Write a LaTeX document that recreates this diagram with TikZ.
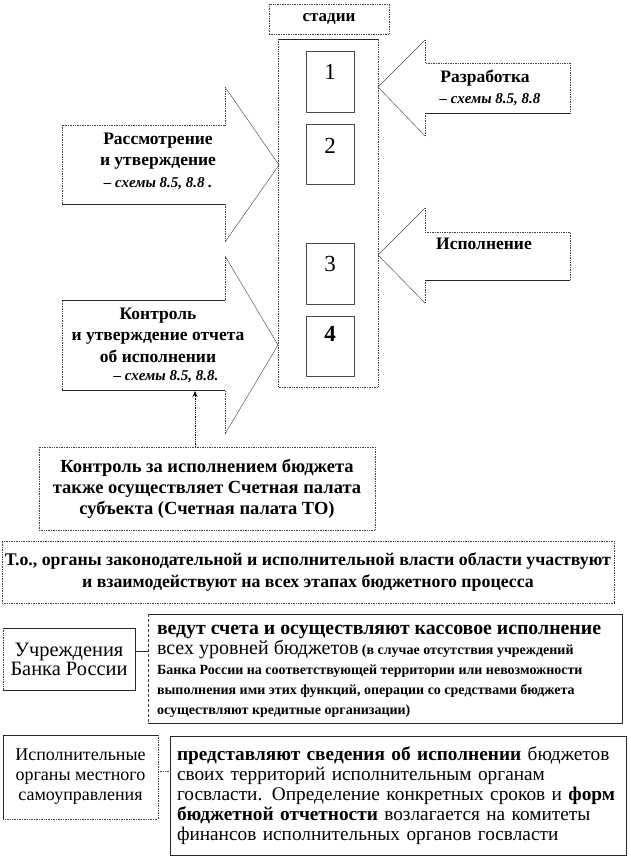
\documentclass[tikz,border=0pt]{standalone}
\usepackage{fontspec}
\setmainfont{Liberation Serif}
\usetikzlibrary{arrows.meta}
\begin{document}
\begin{tikzpicture}[x=1pt,y=-1pt,
  dotln/.style={draw=black!75, densely dotted, line width=0.7pt},
  solln/.style={draw=black!85, line width=0.6pt},
  thinln/.style={draw=black!70, line width=0.45pt},
  boxn/.style={inner sep=0pt, outer sep=0pt, anchor=north west},
  lbl/.style={font=\fontsize{17.5}{21.5}\selectfont\bfseries, align=center, inner sep=0pt},
  sch/.style={font=\fontsize{15}{21.5}\selectfont\bfseries\itshape, inner sep=0pt},
  numf/.style={font=\fontsize{23}{24}\selectfont, inner sep=0pt},
  tl/.style={inner sep=0pt, outer sep=0pt, anchor=north west, align=left}
]
\useasboundingbox[fill=white] (0,0) rectangle (630,858);

% stages header and column
\node[boxn, minimum width=120, minimum height=30, dotln, font=\fontsize{17}{20}\selectfont\bfseries] (st) at (269,4) {стадии};
\node[boxn, minimum width=100, minimum height=348] (col) at (278,39) {};
\draw[dotln] (col.north west) -- (col.south west) -- (col.south east) -- (col.north east);
\draw[solln] (col.north west) -- (col.north east);

% numbered boxes
\node[boxn, solln, draw=black!70, minimum width=48, minimum height=61] (b1) at (306,51) {};
\node[boxn, solln, draw=black!70, minimum width=48, minimum height=60] (b2) at (306,124) {};
\node[boxn, solln, draw=black!70, minimum width=48, minimum height=61] (b3) at (306,243) {};
\node[boxn, solln, draw=black!70, minimum width=48, minimum height=60] (b4) at (306,316) {};
\node[numf] (n1) at (330,72) {1};
\node[numf] (n2) at (330,146) {2};
\node[numf] (n3) at (330,264) {3};
\node[numf, font=\fontsize{23}{24}\selectfont\bfseries] (n4) at (330,334) {4};

% right arrow 1: Разработка
\draw[thinln] (425,40) -- (378,87) -- (425,136);
\draw[dotln] (425,40) -- (425,63) -- (570,63) -- (570,113);
\draw[dotln] (425,113) -- (425,136);
\draw[solln] (570,113) -- (425,113);
\node[lbl] (dev) at (485,78) {Разработка};
\node[sch] (devs) at (490,100) {– схемы 8.5, 8.8};

% right arrow 2: Исполнение
\draw[thinln] (425,208) -- (378,255) -- (425,303);
\draw[dotln] (425,208) -- (425,232) -- (570,232) -- (570,280);
\draw[dotln] (425,280) -- (425,303);
\draw[solln] (570,280) -- (425,280);
\node[lbl] (exe) at (484,244) {Исполнение};

% left arrow 1: Рассмотрение
\draw[dotln] (62,204) -- (62,125) -- (225,125) -- (225,87);
\draw[thinln] (225,87) -- (279,165) -- (225,242);
\draw[dotln] (225,242) -- (225,204);
\draw[solln] (225,204) -- (62,204);
\node[lbl] (rev) at (158,161) {Рассмотрение\\и утверждение\\{\fontsize{15}{21.5}\selectfont\itshape – схемы 8.5, 8.8 .}};

% left arrow 2: Контроль
\draw[solln] (62,300) -- (225,300);
\draw[dotln] (225,300) -- (225,256);
\draw[thinln] (225,256) -- (278,345) -- (225,434);
\draw[dotln] (225,434) -- (225,390);
\draw[solln] (225,390) -- (62,390);
\draw[dotln] (62,390) -- (62,300);
\node[lbl] (ctl) at (158,335) {Контроль\\и утверждение отчета\\об исполнении};
\node[sch] (ctls) at (166,377) {– схемы 8.5, 8.8.};
\coordinate (ctlb) at (195,391);

% Счетная палата
\node[boxn, dotln, minimum width=336, minimum height=83, align=center,
  font=\fontsize{18.5}{21}\selectfont\bfseries] (kz) at (39,447)
  {Контроль за исполнением бюджета\\также осуществляет Счетная палата\\субъекта (Счетная палата ТО)};
\draw[densely dotted, line width=0.8pt, -{Stealth[length=6pt,width=5pt]}] (kz.north -| ctlb) -- (ctlb);

% Т.о.
\node[boxn, dotln, minimum width=612, minimum height=62, align=center,
  font=\fontsize{17.8}{22}\selectfont\bfseries] (to) at (2,541)
  {Т.о., органы законодательной и исполнительной власти области участвуют\\и взаимодействуют на всех этапах бюджетного процесса};

% Bank of Russia
\node[boxn, minimum width=132, minimum height=62, align=center,
  font=\fontsize{20.4}{19}\selectfont] (bank) at (3,628) {Учреждения\\Банка России};
\draw[solln] (bank.south west) -- (bank.south east) -- (bank.north east) -- (bank.north west);
\draw[dotln] (bank.north west) -- (bank.south west);

\node[boxn, minimum width=474, minimum height=109] (bankr) at (148,614) {};
\draw[solln] (bankr.north west) -- (bankr.north east) -- (bankr.south east) -- (bankr.south west);
\draw[densely dashed, draw=black!75, line width=0.6pt] (bankr.north west) -- (bankr.south west);
\node[tl, font=\fontsize{14}{20}\selectfont\bfseries] (bankt) at (157,625)
  {{\fontsize{19.8}{20}\selectfont ведут счета и осуществляют кассовое исполнение}\\
   {\fontsize{20}{20}\selectfont\mdseries всех уровней бюджетов} (в случае  отсутствия учреждений\\
   Банка России на соответствующей  территории или невозможности\\
   выполнения ими этих функций,  операции со средствами бюджета\\
   осуществляют  кредитные организации)};
\coordinate (c1) at (0,651);
\draw[solln] (bank.east |- c1) -- (bankr.west |- c1);

% Local self-government
\node[boxn, minimum width=155, minimum height=84, align=center,
  font=\fontsize{18}{20}\selectfont] (loc) at (3,735) {Исполнительные\\органы местного\\самоуправления};
\draw[solln] (loc.south west) -- (loc.north west) -- (loc.north east);
\draw[dotln] (loc.north east) -- (loc.south east) -- (loc.south west);

\node[boxn, solln, minimum width=456, minimum height=119, inner xsep=7pt, text width=442, align=left,
  font=\fontsize{19.3}{20}\selectfont] (locr) at (170,736)
  {\textbf{представляют сведения об исполнении} бюджетов\\
   своих территорий исполнительным органам\\
   госвласти. Определение конкретных сроков и \textbf{форм}\\
   \textbf{бюджетной отчетности} возлагается на комитеты\\
   финансов исполнительных органов госвласти};
\coordinate (c2) at (0,771);
\draw[dotln] (loc.east |- c2) -- (locr.west |- c2);
\end{tikzpicture}
\end{document}
